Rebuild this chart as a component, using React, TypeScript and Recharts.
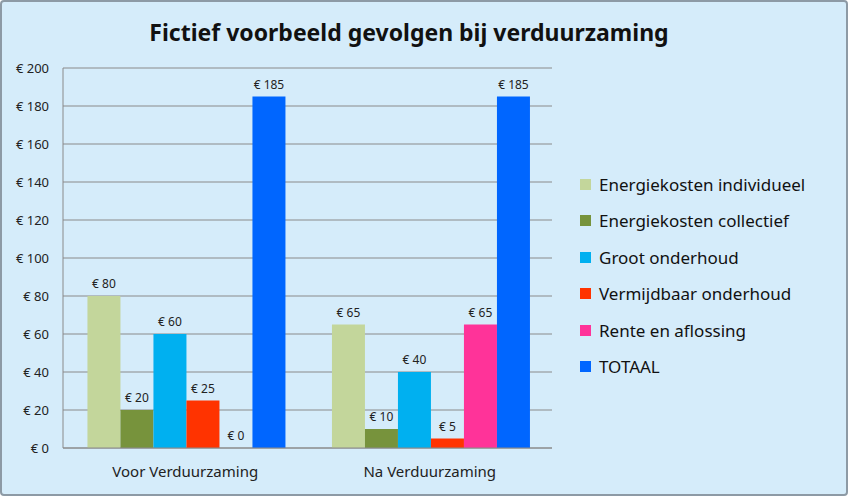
import React from "react";
import {
  Bar,
  BarChart,
  CartesianGrid,
  LabelList,
  XAxis,
  YAxis,
} from "recharts";

const categories = ["Voor Verduurzaming", "Na Verduurzaming"];
const energieIndividueel = [80, 65];
const energieCollectief = [20, 10];
const grootOnderhoud = [60, 40];
const vermijdbaarOnderhoud = [25, 5];
const renteAflossing = [0, 65];
const totaal = [185, 185];
const yTicks = [0, 20, 40, 60, 80, 100, 120, 140, 160, 180, 200];

const series = [
  { key: "ei", name: "Energiekosten individueel", color: "#c3d69b", values: energieIndividueel },
  { key: "ec", name: "Energiekosten collectief", color: "#77933c", values: energieCollectief },
  { key: "go", name: "Groot onderhoud", color: "#00b0f0", values: grootOnderhoud },
  { key: "vo", name: "Vermijdbaar onderhoud", color: "#ff3300", values: vermijdbaarOnderhoud },
  { key: "ra", name: "Rente en aflossing", color: "#ff3399", values: renteAflossing },
  { key: "tot", name: "TOTAAL", color: "#0066ff", values: totaal },
];

const data = categories.map((name, i) => {
  const row: Record<string, string | number> = { name };
  series.forEach((s) => (row[s.key] = s.values[i]));
  return row;
});

const FONT = "'Noto Sans', 'Open Sans', sans-serif";

// value label above each bar, no wrapping
const BarValue = (props: any) => {
  const { x, y, width, value } = props;
  return (
    <text
      x={Number(x) + Number(width) / 2}
      y={Number(y) - 8}
      textAnchor="middle"
      fill="#222"
      fontSize={12}
      fontFamily={FONT}
    >
      {`€ ${value}`}
    </text>
  );
};

function LegendList() {
  return (
    <div style={{ position: "absolute", left: 578, top: 164, fontFamily: FONT }}>
      {series.map((s) => (
        <div
          key={s.key}
          style={{ display: "flex", alignItems: "center", height: 36.5, fontSize: 17, color: "#111" }}
        >
          <span
            style={{ width: 11, height: 11, background: s.color, marginRight: 8, display: "inline-block" }}
          />
          {s.name}
        </div>
      ))}
    </div>
  );
}

export default function App() {
  return (
    <div
      style={{
        position: "absolute",
        left: 0,
        top: 0,
        width: 848,
        height: 496,
        background: "#d5ecfa",
        boxSizing: "border-box",
        border: "2px solid #8d9aa5",
        borderRadius: 4,
      }}
    >
      <div
        style={{
          position: "absolute",
          left: 0,
          width: 814,
          top: 14,
          textAlign: "center",
          fontFamily: FONT,
          fontWeight: 700,
          fontSize: 23,
          color: "#111",
        }}
      >
        Fictief voorbeeld gevolgen bij verduurzaming
      </div>
      <div style={{ position: "absolute", left: -2, top: -2 }}>
        <BarChart
          width={848}
          height={496}
          data={data}
          margin={{ top: 68, right: 296, left: 8, bottom: 13 }}
          barCategoryGap="10%"
          barGap={0}
        >
          <CartesianGrid vertical={false} stroke="#8a8a8a" />
          <XAxis
            dataKey="name"
            height={35}
            interval={0}
            tickLine={false}
            axisLine={{ stroke: "#8a8a8a" }}
            tick={{ fill: "#222", fontSize: 15, fontFamily: FONT }}
            tickMargin={12}
          />
          <YAxis
            width={55}
            domain={[0, 200]}
            ticks={yTicks}
            interval={0}
            tickLine={false}
            axisLine={{ stroke: "#8a8a8a" }}
            tick={{ fill: "#222", fontSize: 13, fontFamily: FONT }}
            tickFormatter={(v: number) => `€ ${v}`}
            tickMargin={8}
          />
          {series.map((s) => (
            <Bar
              key={s.key}
              dataKey={s.key}
              name={s.name}
              fill={s.color}
              minPointSize={0.001}
              isAnimationActive={false}
            >
              <LabelList dataKey={s.key} content={BarValue} />
            </Bar>
          ))}
        </BarChart>
      </div>
      <LegendList />
    </div>
  );
}
